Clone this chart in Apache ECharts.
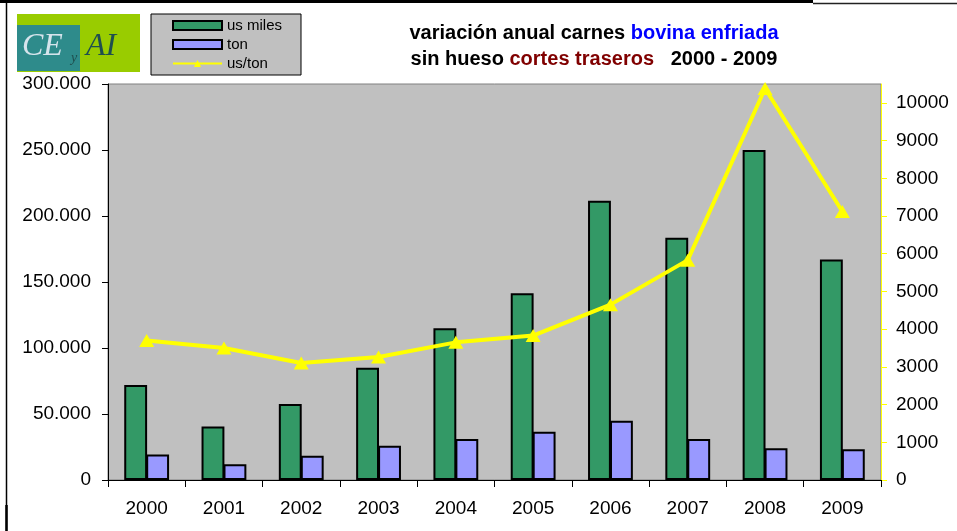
<!DOCTYPE html>
<html><head><meta charset="utf-8">
<script src="https://cdn.jsdelivr.net/npm/echarts@6/dist/echarts.min.js"></script>
<style>html,body{margin:0;padding:0;background:#fff}#c{width:957px;height:531px}</style>
</head><body><div id="c"></div>
<script>
const years = ['2000','2001','2002','2003','2004','2005','2006','2007','2008','2009'];
const usMiles = [72000, 40500, 57500, 85000, 115000, 141500, 211500, 183500, 250000, 167000];
const ton = [19400, 11900, 18400, 26000, 31000, 36600, 44900, 31000, 24000, 23300];
const usPerTon = [3700, 3500, 3100, 3260, 3650, 3830, 4650, 5830, 10380, 7120];
const leftTicks = {min: 0, max: 300000, interval: 50000};
const rightTicks = {min: 0, max: 10500, interval: 1000};

const chart = echarts.init(document.getElementById('c'), null, {renderer: 'canvas'});
const F = 'Arial, "Liberation Sans", sans-serif';
chart.setOption({
  animation: false,
  textStyle: {fontFamily: F},
  title: {
    left: 589, top: 15, textAlign: 'center',
    text: '{k|variación anual carnes }{b|bovina enfriada}\n{k|sin hueso }{r|cortes traseros}{k|   2000 - 2009}',
    textStyle: {
      fontSize: 20, fontWeight: 'bold', lineHeight: 26,
      rich: {
        k: {color: '#000', fontSize: 20, fontWeight: 'bold', fontFamily: F, lineHeight: 26},
        b: {color: '#0000FF', fontSize: 20, fontWeight: 'bold', fontFamily: F, lineHeight: 26},
        r: {color: '#800000', fontSize: 20, fontWeight: 'bold', fontFamily: F, lineHeight: 26}
      }
    }
  },
  legend: {
    left: 151, top: 14, orient: 'vertical',
    itemWidth: 49, itemHeight: 9, itemGap: 4,
    padding: [4, 19, 4, 21],
    backgroundColor: '#C0C0C0', borderColor: '#000', borderWidth: 1,
    textStyle: {fontSize: 15, color: '#000', lineHeight: 15, fontFamily: F},
    data: [{name: 'us miles', icon: 'rect'}, {name: 'ton', icon: 'rect'}, {name: 'us/ton'}]
  },
  grid: {left: 108, right: 76, top: 84, bottom: 51, show: true,
         backgroundColor: '#C0C0C0', borderColor: '#808080', borderWidth: 1},
  xAxis: {
    type: 'category', data: years,
    axisLine: {lineStyle: {color: '#000', width: 1}},
    axisTick: {show: true, length: 7, lineStyle: {color: '#000'}},
    axisLabel: {color: '#000', fontSize: 19, margin: 19, fontFamily: F}
  },
  yAxis: [{
    type: 'value', min: leftTicks.min, max: leftTicks.max, interval: leftTicks.interval,
    splitLine: {show: false},
    axisLine: {show: true, lineStyle: {color: '#000'}},
    axisTick: {show: true, length: 6, lineStyle: {color: '#000'}},
    axisLabel: {color: '#000', fontSize: 19, margin: 17, fontFamily: F,
      formatter: v => v === 0 ? '0' : (v / 1000) + '.000'}
  }, {
    type: 'value', position: 'right', min: rightTicks.min, max: rightTicks.max, interval: rightTicks.interval,
    splitLine: {show: false},
    axisLine: {show: true, lineStyle: {color: '#FFFF00'}},
    axisTick: {show: true, length: 6, lineStyle: {color: '#FFFF00'}},
    axisLabel: {color: '#000', fontSize: 19, margin: 15, fontFamily: F, showMaxLabel: false,
      formatter: v => v > 10000 ? '' : String(v)}
  }],
  series: [{
    name: 'us miles', type: 'bar', data: usMiles, barCategoryGap: '42%', barGap: '-4%',
    itemStyle: {color: '#339966', borderColor: '#000', borderWidth: 2}
  }, {
    name: 'ton', type: 'bar', data: ton, barCategoryGap: '42%', barGap: '-4%',
    itemStyle: {color: '#9999FF', borderColor: '#000', borderWidth: 2}
  }, {
    name: 'us/ton', type: 'line', yAxisIndex: 1, data: usPerTon,
    symbol: 'triangle', symbolSize: [15, 13],
    lineStyle: {color: '#FFFF00', width: 4},
    itemStyle: {color: '#FFFF00'}
  }],
  graphic: [
    {type: 'line', shape: {x1: 0, y1: 1.5, x2: 813, y2: 1.5}, style: {stroke: '#000', lineWidth: 3}},
    {type: 'line', shape: {x1: 813, y1: 3.5, x2: 957, y2: 3.5}, style: {stroke: '#222', lineWidth: 1.5}},
    {type: 'line', shape: {x1: 6.5, y1: 0, x2: 6.5, y2: 531}, style: {stroke: '#000', lineWidth: 1.5}},
    {type: 'line', shape: {x1: 6.5, y1: 505, x2: 6.5, y2: 531}, style: {stroke: '#000', lineWidth: 2.5}},
    {type: 'rect', shape: {x: 17, y: 14, width: 123, height: 58}, style: {fill: '#99CC00'}},
    {type: 'rect', shape: {x: 17, y: 25, width: 63, height: 46}, style: {fill: '#2E8B8B'}},
    {type: 'text', left: 22, top: 31, style: {text: 'CE', font: 'italic 32px "Liberation Serif", "DejaVu Serif", serif', fill: '#D6E4EC'}},
    {type: 'text', left: 71, top: 51, style: {text: 'y', font: 'italic 14px "Liberation Serif", serif', fill: '#1F4F4F'}},
    {type: 'text', left: 86, top: 31, style: {text: 'AI', font: 'italic 32px "Liberation Serif", "DejaVu Serif", serif', fill: '#1F4F4F'}}
  ]
});
</script></body></html>
